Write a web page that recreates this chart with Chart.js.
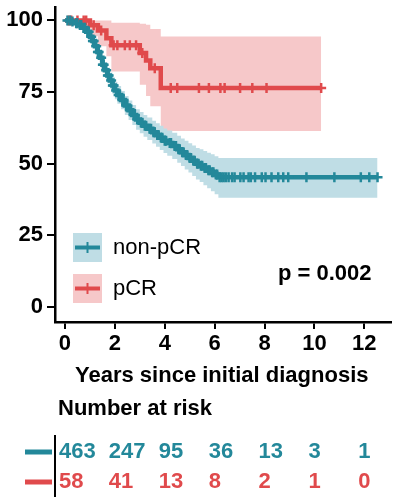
<!DOCTYPE html>
<html lang="en">
<head>
<meta charset="UTF-8">
<title>Survival by pCR status</title>
<style>
  html, body { margin: 0; padding: 0; background: #fff; }
</style>
</head>
<body>
<canvas id="myCanvas" width="398" height="500"></canvas>
<script src="https://cdn.jsdelivr.net/npm/chart.js@4.4.1/dist/chart.umd.min.js"></script>
<script>
// ---- data ----
const xTicks = [0, 2, 4, 6, 8, 10, 12];
const yTicks = [0, 25, 50, 75, 100];
const groups = ['non-pCR', 'pCR'];
const xTitle = 'Years since initial diagnosis';
const riskTitle = 'Number at risk';
const pText = 'p = 0.002';

// non-pCR step curve (time, survival %, lower / upper CI)
const nonTime = [0, 0.25, 0.4, 0.55, 0.7, 0.85, 1.0, 1.1, 1.2, 1.3, 1.4, 1.5, 1.6, 1.7, 1.8, 1.9, 2.0, 2.1, 2.25, 2.4, 2.55, 2.7, 2.85, 3.0, 3.15, 3.3, 3.5, 3.65, 3.8, 3.95, 4.1, 4.3, 4.5, 4.65, 4.8, 4.95, 5.1, 5.25, 5.4, 5.55, 5.7, 5.85, 6.0, 6.15, 12.53];
const nonSurv = [100, 99.6, 99.0, 98.4, 97.4, 96.0, 94.3, 92.8, 91.0, 89.0, 87.0, 84.5, 82.6, 80.8, 79.0, 77.3, 75.5, 74.0, 72.2, 70.3, 68.6, 67.0, 65.4, 64.3, 63.2, 62.2, 61.0, 60.0, 59.0, 58.0, 57.2, 56.2, 55.0, 54.0, 53.0, 52.0, 51.0, 50.0, 49.3, 48.5, 47.7, 47.0, 46.2, 45.3, 45.3];
const nonLow = [100, 99.0, 98.2, 97.3, 96.0, 94.4, 92.4, 90.7, 88.8, 86.7, 84.6, 82.0, 80.0, 78.1, 76.2, 74.4, 72.5, 70.9, 69.0, 67.0, 65.2, 63.5, 61.8, 60.6, 59.4, 58.3, 57.0, 55.9, 54.8, 53.7, 52.8, 51.6, 50.3, 49.2, 48.0, 46.9, 45.7, 44.5, 43.6, 42.5, 41.4, 40.4, 39.3, 38.1, 38.1];
const nonHigh = [100, 100, 99.8, 99.5, 98.8, 97.6, 96.2, 94.9, 93.2, 91.3, 89.4, 87.0, 85.2, 83.5, 81.8, 80.2, 78.5, 77.1, 75.4, 73.6, 72.0, 70.5, 69.0, 68.0, 67.0, 66.1, 65.0, 64.1, 63.2, 62.3, 61.6, 60.8, 59.7, 58.8, 58.0, 57.1, 56.3, 55.5, 55.0, 54.4, 53.8, 53.3, 52.6, 52.0, 52.0];
const nonCensor = [0.1, 0.2, 0.3, 0.45, 0.5, 0.6, 0.65, 0.75, 0.8, 0.9, 0.95, 1.05, 1.12, 1.15, 1.25, 1.32, 1.35, 1.45, 1.52, 1.55, 1.65, 1.72, 1.75, 1.85, 1.92, 1.95, 2.05, 2.15, 2.2, 2.3, 2.35, 2.45, 2.5, 2.6, 2.65, 2.75, 2.8, 2.9, 2.95, 3.05, 3.1, 3.2, 3.25, 3.4, 3.45, 3.55, 3.6, 3.7, 3.75, 3.85, 3.9, 4.0, 4.05, 4.2, 4.25, 4.4, 4.45, 4.55, 4.6, 4.7, 4.75, 4.85, 4.9, 5.0, 5.05, 5.15, 5.2, 5.3, 5.35, 5.45, 5.5, 5.6, 5.65, 5.75, 5.8, 5.9, 5.95, 6.05, 6.1, 6.2, 6.28, 6.36, 6.45, 6.56, 6.7, 6.8, 7.03, 7.16, 7.36, 7.45, 7.62, 7.89, 8.04, 8.28, 8.55, 8.75, 8.95, 9.68, 10.8, 11.86, 12.2, 12.53];

// pCR step curve
const pcrTime = [0, 1.0, 1.32, 1.66, 1.86, 3.0, 3.25, 3.42, 3.84, 10.27];
const pcrSurv = [100, 98.3, 96.5, 93.8, 91.3, 88.6, 86.0, 83.3, 76.4, 76.4];
const pcrLow = [100, 94.5, 91.0, 87.5, 82.2, 77.5, 73.6, 70.0, 61.4, 61.4];
const pcrHigh = [100, 100, 100, 100, 99.2, 98.8, 98.5, 97.0, 94.4, 94.4];
const pcrCensor = [0.15, 0.25, 0.5, 0.75, 0.85, 1.15, 1.45, 1.95, 2.1, 2.4, 2.6, 2.85, 3.1, 3.6, 4.24, 4.5, 5.37, 5.77, 6.23, 6.4, 7.02, 7.51, 8.08, 10.27];

// number at risk
const riskTimes = [0, 2, 4, 6, 8, 10, 12];
const nonRisk = [463, 247, 95, 36, 13, 3, 1];
const pcrRisk = [58, 41, 13, 8, 2, 1, 0];

// ---- colours ----
const tealLine = '#23889a';
const tealBand = '#bfdde5';
const redLine = '#e04a4c';
const redBand = '#f6c8c9';
const FONT = '"Liberation Sans", Arial, Helvetica, sans-serif';

function pts(t, v) { return t.map((x, i) => ({ x: x, y: v[i] })); }
function survAt(t, v, at) {
    let s = v[0];
    for (let i = 0; i < t.length; i++) { if (t[i] <= at) s = v[i]; }
    return s;
}
function censorPts(t, v, c) { return c.map(x => ({ x: x, y: survAt(t, v, x) })); }

const extras = {
    id: 'extras',
    afterDraw(chart) {
        const ctx = chart.ctx;
        const area = chart.chartArea;
        const x = chart.scales.x;
        ctx.save();

        // legend
        const items = [
            { name: groups[0], band: tealBand, line: tealLine, top: 233 },
            { name: groups[1], band: redBand, line: redLine, top: 274 }
        ];
        items.forEach(it => {
            ctx.fillStyle = it.band;
            ctx.fillRect(73, it.top, 29, 29);
            ctx.strokeStyle = it.line;
            ctx.lineWidth = 4;
            ctx.beginPath(); ctx.moveTo(75, it.top + 14.5); ctx.lineTo(100, it.top + 14.5); ctx.stroke();
            ctx.lineWidth = 2;
            ctx.beginPath(); ctx.moveTo(87.5, it.top + 9); ctx.lineTo(87.5, it.top + 20); ctx.stroke();
            ctx.fillStyle = '#000';
            ctx.font = '22px ' + FONT;
            ctx.textAlign = 'left';
            ctx.textBaseline = 'middle';
            ctx.fillText(it.name, 113, it.top + 15);
        });

        // p value
        ctx.font = 'bold 22px ' + FONT;
        ctx.fillText(pText, 278, 274);

        // x title
        ctx.textAlign = 'center';
        ctx.fillText(xTitle, (area.left + area.right) / 2 - 1, 376);

        // number at risk
        ctx.textAlign = 'left';
        ctx.fillText(riskTitle, 58, 409);

        ctx.strokeStyle = '#000';
        ctx.lineWidth = 2;
        ctx.beginPath(); ctx.moveTo(area.left, 435); ctx.lineTo(area.left, 497); ctx.stroke();

        const rows = [
            { vals: nonRisk, color: tealLine, y: 452 },
            { vals: pcrRisk, color: redLine, y: 482 }
        ];
        rows.forEach(r => {
            ctx.strokeStyle = r.color;
            ctx.lineWidth = 5;
            ctx.beginPath(); ctx.moveTo(25, r.y); ctx.lineTo(52, r.y); ctx.stroke();
            ctx.fillStyle = r.color;
            ctx.font = 'bold 22px ' + FONT;
            r.vals.forEach((v, i) => {
                ctx.fillText(String(v), x.getPixelForValue(riskTimes[i]) - 6, r.y);
            });
        });
        ctx.restore();
    }
};

const ctx = document.getElementById('myCanvas').getContext('2d');
const myChart = new Chart(ctx, {
    type: 'scatter',
    data: {
        datasets: [
            { label: groups[0] + ' censored', data: censorPts(nonTime, nonSurv, nonCensor), pointStyle: 'cross', pointRadius: 5, borderColor: tealLine, borderWidth: 2.5, showLine: false, order: 0 },
            { label: groups[1] + ' censored', data: censorPts(pcrTime, pcrSurv, pcrCensor), pointStyle: 'cross', pointRadius: 5, borderColor: redLine, borderWidth: 2.5, showLine: false, order: 0 },
            { label: groups[0], data: pts(nonTime, nonSurv), showLine: true, stepped: true, borderColor: tealLine, borderWidth: 4.5, pointRadius: 0, order: 1 },
            { label: groups[1], data: pts(pcrTime, pcrSurv), showLine: true, stepped: true, borderColor: redLine, borderWidth: 4.5, pointRadius: 0, order: 1 },
            { label: groups[1] + ' upper', data: pts(pcrTime, pcrHigh), showLine: true, stepped: true, borderWidth: 0, borderColor: 'rgba(0,0,0,0)', backgroundColor: redBand, fill: '+1', pointRadius: 0, order: 3 },
            { label: groups[1] + ' lower', data: pts(pcrTime, pcrLow), showLine: true, stepped: true, borderWidth: 0, borderColor: 'rgba(0,0,0,0)', pointRadius: 0, order: 3 },
            { label: groups[0] + ' upper', data: pts(nonTime, nonHigh), showLine: true, stepped: true, borderWidth: 0, borderColor: 'rgba(0,0,0,0)', backgroundColor: tealBand, fill: '+1', pointRadius: 0, order: 2 },
            { label: groups[0] + ' lower', data: pts(nonTime, nonLow), showLine: true, stepped: true, borderWidth: 0, borderColor: 'rgba(0,0,0,0)', pointRadius: 0, order: 2 }
        ]
    },
    options: {
        responsive: false,
        animation: false,
        devicePixelRatio: 1,
        layout: { padding: { left: 0, right: 5, top: 3, bottom: 143 } },
        plugins: { legend: { display: false }, tooltip: { enabled: false } },
        scales: {
            x: {
                type: 'linear', min: -0.4, max: 13.05,
                afterBuildTicks: s => { s.ticks = xTicks.map(v => ({ value: v })); },
                afterFit: s => { s.height = 35; s.paddingLeft = 0; s.paddingRight = 0; },
                grid: { drawOnChartArea: false, drawTicks: true, tickLength: 7, color: '#000', lineWidth: 2 },
                border: { color: '#000', width: 2.5 },
                ticks: { color: '#000', padding: 2, maxRotation: 0, font: { family: FONT, size: 22, weight: 'bold' } }
            },
            y: {
                type: 'linear', min: -5.26, max: 104.5,
                afterBuildTicks: s => { s.ticks = yTicks.map(v => ({ value: v })); },
                afterFit: s => { s.width = 55; s.paddingTop = 0; s.paddingBottom = 0; },
                grid: { drawOnChartArea: false, drawTicks: true, tickLength: 8, color: '#000', lineWidth: 2 },
                border: { color: '#000', width: 2.5 },
                ticks: { color: '#000', padding: 4, font: { family: FONT, size: 22, weight: 'bold' } }
            }
        }
    },
    plugins: [extras]
});
</script>
</body>
</html>
